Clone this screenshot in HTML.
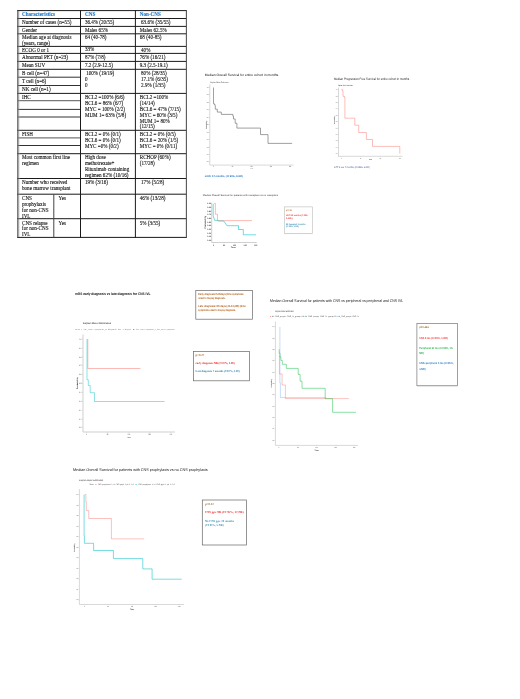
<!DOCTYPE html>
<html><head><meta charset="utf-8"><style>
html,body{margin:0;padding:0;background:#fff;}
body{width:520px;height:699px;overflow:hidden;}
svg{display:block;will-change:transform;filter:blur(0.2px);text-rendering:geometricPrecision;font-family:"Liberation Serif", serif;}
</style></head><body>
<svg width="520" height="699" viewBox="0 0 520 699" font-family="Liberation Serif, serif">
<rect width="520" height="699" fill="#fff"/>
<g style="text-rendering:auto">
<line x1="17.4" y1="10.6" x2="186.9" y2="10.6" stroke="#1a1a1a" stroke-width="1.0"/>
<line x1="17.4" y1="18.5" x2="186.9" y2="18.5" stroke="#1a1a1a" stroke-width="1.0"/>
<line x1="17.4" y1="26.4" x2="186.9" y2="26.4" stroke="#1a1a1a" stroke-width="1.0"/>
<line x1="17.4" y1="33.8" x2="186.9" y2="33.8" stroke="#1a1a1a" stroke-width="1.0"/>
<line x1="17.4" y1="46.4" x2="186.9" y2="46.4" stroke="#1a1a1a" stroke-width="1.0"/>
<line x1="17.4" y1="53.4" x2="186.9" y2="53.4" stroke="#1a1a1a" stroke-width="1.0"/>
<line x1="17.4" y1="61.4" x2="186.9" y2="61.4" stroke="#1a1a1a" stroke-width="1.0"/>
<line x1="17.4" y1="69.3" x2="186.9" y2="69.3" stroke="#1a1a1a" stroke-width="1.0"/>
<line x1="17.4" y1="93.4" x2="186.9" y2="93.4" stroke="#1a1a1a" stroke-width="1.0"/>
<line x1="17.4" y1="130.3" x2="186.9" y2="130.3" stroke="#1a1a1a" stroke-width="1.0"/>
<line x1="17.4" y1="153.7" x2="186.9" y2="153.7" stroke="#1a1a1a" stroke-width="1.0"/>
<line x1="17.4" y1="178.5" x2="186.9" y2="178.5" stroke="#1a1a1a" stroke-width="1.0"/>
<line x1="17.4" y1="194.2" x2="186.9" y2="194.2" stroke="#1a1a1a" stroke-width="1.0"/>
<line x1="17.4" y1="218.7" x2="186.9" y2="218.7" stroke="#1a1a1a" stroke-width="1.0"/>
<line x1="17.4" y1="237.4" x2="186.9" y2="237.4" stroke="#1a1a1a" stroke-width="1.0"/>
<line x1="17.9" y1="77.2" x2="80.5" y2="77.2" stroke="#1a1a1a" stroke-width="0.9"/>
<line x1="17.9" y1="85.5" x2="80.5" y2="85.5" stroke="#1a1a1a" stroke-width="0.9"/>
<line x1="17.9" y1="109.4" x2="80.5" y2="109.4" stroke="#1a1a1a" stroke-width="0.9"/>
<line x1="17.9" y1="145.5" x2="80.5" y2="145.5" stroke="#1a1a1a" stroke-width="0.9"/>
<line x1="17.9" y1="100.6" x2="80.5" y2="100.6" stroke="#777" stroke-width="1.3"/>
<line x1="17.9" y1="117.0" x2="80.5" y2="117.0" stroke="#777" stroke-width="1.3"/>
<line x1="17.9" y1="137.9" x2="80.5" y2="137.9" stroke="#777" stroke-width="1.3"/>
<line x1="17.9" y1="10.1" x2="17.9" y2="237.9" stroke="#333" stroke-width="1.1"/>
<line x1="19.0" y1="11" x2="19.0" y2="237" stroke="#bbb" stroke-width="0.6"/>
<line x1="80.5" y1="10.1" x2="80.5" y2="237.9" stroke="#1a1a1a" stroke-width="1.0"/>
<line x1="135.4" y1="10.1" x2="135.4" y2="237.9" stroke="#1a1a1a" stroke-width="1.0"/>
<line x1="186.4" y1="10.1" x2="186.4" y2="237.9" stroke="#555" stroke-width="1.1"/>
<line x1="53.8" y1="194.2" x2="53.8" y2="237.4" stroke="#444" stroke-width="1.0"/>
<text x="22.0" y="15.9" font-size="5.1" fill="#1f78c8" font-weight="bold" textLength="33" lengthAdjust="spacingAndGlyphs" stroke="#1f78c8" stroke-width="0.1"  xml:space="preserve">Characteristics</text>
<text x="84.9" y="15.9" font-size="5.1" fill="#1f78c8" font-weight="bold" textLength="10.4" lengthAdjust="spacingAndGlyphs" stroke="#1f78c8" stroke-width="0.1"  xml:space="preserve">CNS</text>
<text x="139.8" y="15.9" font-size="5.1" fill="#1f78c8" font-weight="bold" textLength="21" lengthAdjust="spacingAndGlyphs" stroke="#1f78c8" stroke-width="0.1"  xml:space="preserve">Non-CNS</text>
<text x="22.0" y="24.2" font-size="5.1" fill="#111" stroke="#111" stroke-width="0.1"  xml:space="preserve">Number of cases (n=55)</text>
<text x="22.0" y="32.2" font-size="5.1" fill="#111" stroke="#111" stroke-width="0.1"  xml:space="preserve">Gender</text>
<text x="22.0" y="39.1" font-size="5.1" fill="#111" stroke="#111" stroke-width="0.1"  xml:space="preserve">Median age at diagnosis</text>
<text x="22.0" y="45.1" font-size="5.1" fill="#111" stroke="#111" stroke-width="0.1"  xml:space="preserve">(years, range)</text>
<text x="22.0" y="51.9" font-size="5.1" fill="#111" stroke="#111" stroke-width="0.1"  xml:space="preserve">ECOG 0 or 1</text>
<text x="22.0" y="59.2" font-size="5.1" fill="#111" stroke="#111" stroke-width="0.1"  xml:space="preserve">Abnormal PET (n=23)</text>
<text x="22.0" y="66.9" font-size="5.1" fill="#111" stroke="#111" stroke-width="0.1"  xml:space="preserve">Mean SUV</text>
<text x="22.0" y="74.9" font-size="5.1" fill="#111" stroke="#111" stroke-width="0.1"  xml:space="preserve">B cell (n=47)</text>
<text x="22.0" y="83.0" font-size="5.1" fill="#111" stroke="#111" stroke-width="0.1"  xml:space="preserve">T cell (n=6)</text>
<text x="22.0" y="91.3" font-size="5.1" fill="#111" stroke="#111" stroke-width="0.1"  xml:space="preserve">NK cell (n=1)</text>
<text x="22.0" y="99.1" font-size="5.1" fill="#111" stroke="#111" stroke-width="0.1"  xml:space="preserve">IHC</text>
<text x="22.0" y="135.9" font-size="5.1" fill="#111" stroke="#111" stroke-width="0.1"  xml:space="preserve">FISH</text>
<text x="22.0" y="159.2" font-size="5.1" fill="#111" stroke="#111" stroke-width="0.1"  xml:space="preserve">Most common first line</text>
<text x="22.0" y="165.1" font-size="5.1" fill="#111" stroke="#111" stroke-width="0.1"  xml:space="preserve">regimen</text>
<text x="22.0" y="184.3" font-size="5.1" fill="#111" stroke="#111" stroke-width="0.1"  xml:space="preserve">Number who received</text>
<text x="22.0" y="190.3" font-size="5.1" fill="#111" stroke="#111" stroke-width="0.1"  xml:space="preserve">bone marrow transplant</text>
<text x="22.0" y="199.7" font-size="5.1" fill="#111" stroke="#111" stroke-width="0.1"  xml:space="preserve">CNS</text>
<text x="22.0" y="205.7" font-size="5.1" fill="#111" stroke="#111" stroke-width="0.1"  xml:space="preserve">prophylaxis</text>
<text x="22.0" y="211.6" font-size="5.1" fill="#111" stroke="#111" stroke-width="0.1"  xml:space="preserve">for non-CNS</text>
<text x="22.0" y="217.5" font-size="5.1" fill="#111" stroke="#111" stroke-width="0.1"  xml:space="preserve">IVL</text>
<text x="22.0" y="224.6" font-size="5.1" fill="#111" stroke="#111" stroke-width="0.1"  xml:space="preserve">CNS relapse</text>
<text x="22.0" y="230.4" font-size="5.1" fill="#111" stroke="#111" stroke-width="0.1"  xml:space="preserve">for non-CNS</text>
<text x="22.0" y="236.2" font-size="5.1" fill="#111" stroke="#111" stroke-width="0.1"  xml:space="preserve">IVL</text>
<text x="58.6" y="199.9" font-size="5.1" fill="#111" stroke="#111" stroke-width="0.1"  xml:space="preserve">Yes</text>
<text x="58.6" y="224.7" font-size="5.1" fill="#111" stroke="#111" stroke-width="0.1"  xml:space="preserve">Yes</text>
<text x="84.9" y="24.2" font-size="5.1" fill="#111" stroke="#111" stroke-width="0.1"  xml:space="preserve">36.4% (20/55)</text>
<text x="84.9" y="32.2" font-size="5.1" fill="#111" stroke="#111" stroke-width="0.1"  xml:space="preserve">Males 65%</text>
<text x="84.9" y="39.1" font-size="5.1" fill="#111" stroke="#111" stroke-width="0.1"  xml:space="preserve">64 (40-78)</text>
<text x="84.9" y="51.4" font-size="5.1" fill="#111" stroke="#111" stroke-width="0.1"  xml:space="preserve">33%</text>
<text x="84.9" y="59.0" font-size="5.1" fill="#111" stroke="#111" stroke-width="0.1"  xml:space="preserve">87% (7/8)</text>
<text x="84.9" y="66.9" font-size="5.1" fill="#111" stroke="#111" stroke-width="0.1"  xml:space="preserve">7.2 (2.9-12.5)</text>
<text x="84.9" y="75.1" font-size="5.1" fill="#111" stroke="#111" stroke-width="0.1"  xml:space="preserve"> 100% (19/19)</text>
<text x="84.9" y="80.9" font-size="5.1" fill="#111" stroke="#111" stroke-width="0.1"  xml:space="preserve">0</text>
<text x="84.9" y="86.7" font-size="5.1" fill="#111" stroke="#111" stroke-width="0.1"  xml:space="preserve">0</text>
<text x="84.9" y="99.1" font-size="5.1" fill="#111" stroke="#111" stroke-width="0.1"  xml:space="preserve">BCL2 =100% (6/6)</text>
<text x="84.9" y="105.0" font-size="5.1" fill="#111" stroke="#111" stroke-width="0.1"  xml:space="preserve">BCL6 = 86% (6/7)</text>
<text x="84.9" y="110.9" font-size="5.1" fill="#111" stroke="#111" stroke-width="0.1"  xml:space="preserve">MYC = 100% (2/2)</text>
<text x="84.9" y="116.8" font-size="5.1" fill="#111" stroke="#111" stroke-width="0.1"  xml:space="preserve">MUM 1= 63% (5/8)</text>
<text x="84.9" y="135.8" font-size="5.1" fill="#111" stroke="#111" stroke-width="0.1"  xml:space="preserve">BCL2 = 0% (0/1)</text>
<text x="84.9" y="141.7" font-size="5.1" fill="#111" stroke="#111" stroke-width="0.1"  xml:space="preserve">BCL6 = 0% (0/1)</text>
<text x="84.9" y="147.7" font-size="5.1" fill="#111" stroke="#111" stroke-width="0.1"  xml:space="preserve">MYC =0% (0/2)</text>
<text x="84.9" y="159.3" font-size="5.1" fill="#111" stroke="#111" stroke-width="0.1"  xml:space="preserve">High dose</text>
<text x="84.9" y="165.2" font-size="5.1" fill="#111" stroke="#111" stroke-width="0.1"  xml:space="preserve">methotrexate+</text>
<text x="84.9" y="171.3" font-size="5.1" fill="#111" stroke="#111" stroke-width="0.1"  xml:space="preserve">Rituximab containing</text>
<text x="84.9" y="177.2" font-size="5.1" fill="#111" stroke="#111" stroke-width="0.1"  xml:space="preserve">regimen 62% (10/16)</text>
<text x="84.9" y="184.1" font-size="5.1" fill="#111" stroke="#111" stroke-width="0.1"  xml:space="preserve">19% (3/16)</text>
<text x="139.8" y="24.2" font-size="5.1" fill="#111" stroke="#111" stroke-width="0.1"  xml:space="preserve"> 63.6% (35/55)</text>
<text x="139.8" y="32.2" font-size="5.1" fill="#111" stroke="#111" stroke-width="0.1"  xml:space="preserve">Males 62.5%</text>
<text x="139.8" y="39.1" font-size="5.1" fill="#111" stroke="#111" stroke-width="0.1"  xml:space="preserve">68 (40-85)</text>
<text x="139.8" y="51.5" font-size="5.1" fill="#111" stroke="#111" stroke-width="0.1"  xml:space="preserve"> 40%</text>
<text x="139.8" y="59.0" font-size="5.1" fill="#111" stroke="#111" stroke-width="0.1"  xml:space="preserve">76% (16/21)</text>
<text x="139.8" y="66.7" font-size="5.1" fill="#111" stroke="#111" stroke-width="0.1"  xml:space="preserve">9.3 (2.5-19.1)</text>
<text x="139.8" y="75.1" font-size="5.1" fill="#111" stroke="#111" stroke-width="0.1"  xml:space="preserve"> 80% (28/35)</text>
<text x="139.8" y="80.9" font-size="5.1" fill="#111" stroke="#111" stroke-width="0.1"  xml:space="preserve"> 17.1% (6/35)</text>
<text x="139.8" y="86.8" font-size="5.1" fill="#111" stroke="#111" stroke-width="0.1"  xml:space="preserve"> 2.9% (1/35)</text>
<text x="139.8" y="98.9" font-size="5.1" fill="#111" stroke="#111" stroke-width="0.1"  xml:space="preserve">BCL2 =100%</text>
<text x="139.8" y="104.9" font-size="5.1" fill="#111" stroke="#111" stroke-width="0.1"  xml:space="preserve">(14/14)</text>
<text x="139.8" y="110.8" font-size="5.1" fill="#111" stroke="#111" stroke-width="0.1"  xml:space="preserve">BCL6 = 47% (7/15)</text>
<text x="139.8" y="116.7" font-size="5.1" fill="#111" stroke="#111" stroke-width="0.1"  xml:space="preserve">MYC = 60% (3/5)</text>
<text x="139.8" y="122.6" font-size="5.1" fill="#111" stroke="#111" stroke-width="0.1"  xml:space="preserve">MUM 1= 80%</text>
<text x="139.8" y="128.4" font-size="5.1" fill="#111" stroke="#111" stroke-width="0.1"  xml:space="preserve">(12/15)</text>
<text x="139.8" y="135.8" font-size="5.1" fill="#111" stroke="#111" stroke-width="0.1"  xml:space="preserve">BCL2 = 0% (0/5)</text>
<text x="139.8" y="141.7" font-size="5.1" fill="#111" stroke="#111" stroke-width="0.1"  xml:space="preserve">BCL6 = 20% (1/5)</text>
<text x="139.8" y="147.7" font-size="5.1" fill="#111" stroke="#111" stroke-width="0.1"  xml:space="preserve">MYC = 0% (0/11)</text>
<text x="139.8" y="159.2" font-size="5.1" fill="#111" stroke="#111" stroke-width="0.1"  xml:space="preserve">RCHOP (60%)</text>
<text x="139.8" y="165.1" font-size="5.1" fill="#111" stroke="#111" stroke-width="0.1"  xml:space="preserve">(17/28)</text>
<text x="139.8" y="184.0" font-size="5.1" fill="#111" stroke="#111" stroke-width="0.1"  xml:space="preserve"> 17% (5/28)</text>
<text x="139.8" y="199.8" font-size="5.1" fill="#111" stroke="#111" stroke-width="0.1"  xml:space="preserve">46% (13/28)</text>
<text x="139.8" y="224.7" font-size="5.1" fill="#111" stroke="#111" stroke-width="0.1"  xml:space="preserve">5% (3/55)</text>
</g>
<text x="204.8" y="76.4" font-size="3.4" fill="#111" font-family="Liberation Sans, sans-serif" textLength="74.2" lengthAdjust="spacingAndGlyphs"  xml:space="preserve">Median Overall Survival for entire cohort in months.</text>
<text x="210.2" y="83.0" font-size="2.1" fill="#444" font-family="Liberation Sans, sans-serif" textLength="18.4" lengthAdjust="spacingAndGlyphs"  xml:space="preserve">Kaplan-Meier Estimates</text>
<line x1="209.8" y1="84.4" x2="209.8" y2="165.1" stroke="#c8c8c8" stroke-width="0.7"/>
<line x1="209.0" y1="87.5" x2="209.8" y2="87.5" stroke="#c8c8c8" stroke-width="0.5"/>
<text x="208.60000000000002" y="87.955" font-size="1.3" fill="#555" font-family="Liberation Sans, sans-serif" font-weight="bold" text-anchor="end"  xml:space="preserve">1.0</text>
<line x1="209.0" y1="94.95" x2="209.8" y2="94.95" stroke="#c8c8c8" stroke-width="0.5"/>
<text x="208.60000000000002" y="95.405" font-size="1.3" fill="#555" font-family="Liberation Sans, sans-serif" font-weight="bold" text-anchor="end"  xml:space="preserve">0.9</text>
<line x1="209.0" y1="102.4" x2="209.8" y2="102.4" stroke="#c8c8c8" stroke-width="0.5"/>
<text x="208.60000000000002" y="102.855" font-size="1.3" fill="#555" font-family="Liberation Sans, sans-serif" font-weight="bold" text-anchor="end"  xml:space="preserve">0.8</text>
<line x1="209.0" y1="109.85" x2="209.8" y2="109.85" stroke="#c8c8c8" stroke-width="0.5"/>
<text x="208.60000000000002" y="110.30499999999999" font-size="1.3" fill="#555" font-family="Liberation Sans, sans-serif" font-weight="bold" text-anchor="end"  xml:space="preserve">0.7</text>
<line x1="209.0" y1="117.3" x2="209.8" y2="117.3" stroke="#c8c8c8" stroke-width="0.5"/>
<text x="208.60000000000002" y="117.755" font-size="1.3" fill="#555" font-family="Liberation Sans, sans-serif" font-weight="bold" text-anchor="end"  xml:space="preserve">0.6</text>
<line x1="209.0" y1="124.75" x2="209.8" y2="124.75" stroke="#c8c8c8" stroke-width="0.5"/>
<text x="208.60000000000002" y="125.205" font-size="1.3" fill="#555" font-family="Liberation Sans, sans-serif" font-weight="bold" text-anchor="end"  xml:space="preserve">0.5</text>
<line x1="209.0" y1="132.2" x2="209.8" y2="132.2" stroke="#c8c8c8" stroke-width="0.5"/>
<text x="208.60000000000002" y="132.655" font-size="1.3" fill="#555" font-family="Liberation Sans, sans-serif" font-weight="bold" text-anchor="end"  xml:space="preserve">0.4</text>
<line x1="209.0" y1="139.65" x2="209.8" y2="139.65" stroke="#c8c8c8" stroke-width="0.5"/>
<text x="208.60000000000002" y="140.10500000000002" font-size="1.3" fill="#555" font-family="Liberation Sans, sans-serif" font-weight="bold" text-anchor="end"  xml:space="preserve">0.3</text>
<line x1="209.0" y1="147.1" x2="209.8" y2="147.1" stroke="#c8c8c8" stroke-width="0.5"/>
<text x="208.60000000000002" y="147.555" font-size="1.3" fill="#555" font-family="Liberation Sans, sans-serif" font-weight="bold" text-anchor="end"  xml:space="preserve">0.2</text>
<line x1="209.0" y1="154.55" x2="209.8" y2="154.55" stroke="#c8c8c8" stroke-width="0.5"/>
<text x="208.60000000000002" y="155.00500000000002" font-size="1.3" fill="#555" font-family="Liberation Sans, sans-serif" font-weight="bold" text-anchor="end"  xml:space="preserve">0.1</text>
<line x1="209.0" y1="162.0" x2="209.8" y2="162.0" stroke="#c8c8c8" stroke-width="0.5"/>
<text x="208.60000000000002" y="162.455" font-size="1.3" fill="#555" font-family="Liberation Sans, sans-serif" font-weight="bold" text-anchor="end"  xml:space="preserve">0.0</text>
<line x1="209.8" y1="165.1" x2="293.6" y2="165.1" stroke="#c8c8c8" stroke-width="0.7"/>
<line x1="213.5" y1="165.1" x2="213.5" y2="165.9" stroke="#c8c8c8" stroke-width="0.5"/>
<text x="213.5" y="167.2" font-size="1.3" fill="#555" font-family="Liberation Sans, sans-serif" font-weight="bold" text-anchor="middle"  xml:space="preserve">0</text>
<line x1="232.5" y1="165.1" x2="232.5" y2="165.9" stroke="#c8c8c8" stroke-width="0.5"/>
<text x="232.5" y="167.2" font-size="1.3" fill="#555" font-family="Liberation Sans, sans-serif" font-weight="bold" text-anchor="middle"  xml:space="preserve">50</text>
<line x1="251.5" y1="165.1" x2="251.5" y2="165.9" stroke="#c8c8c8" stroke-width="0.5"/>
<text x="251.5" y="167.2" font-size="1.3" fill="#555" font-family="Liberation Sans, sans-serif" font-weight="bold" text-anchor="middle"  xml:space="preserve">100</text>
<line x1="270.8" y1="165.1" x2="270.8" y2="165.9" stroke="#c8c8c8" stroke-width="0.5"/>
<text x="270.8" y="167.2" font-size="1.3" fill="#555" font-family="Liberation Sans, sans-serif" font-weight="bold" text-anchor="middle"  xml:space="preserve">150</text>
<line x1="290.0" y1="165.1" x2="290.0" y2="165.9" stroke="#c8c8c8" stroke-width="0.5"/>
<text x="290.0" y="167.2" font-size="1.3" fill="#555" font-family="Liberation Sans, sans-serif" font-weight="bold" text-anchor="middle"  xml:space="preserve">200</text>
<text x="251.5" y="169.3" font-size="1.5" fill="#777" font-family="Liberation Sans, sans-serif" text-anchor="middle"  xml:space="preserve">Time</text>
<text x="0" y="0" font-size="1.6" fill="#444" font-weight="bold" font-family="Liberation Sans, sans-serif" text-anchor="middle" transform="translate(206.9,124.7) rotate(-90)">Probability</text>
<path d="M213.5,87.5 V103.5 H214.1 V104.4 H215 V105.8 H215.3 V109.2 H217.3 V112.1 H221.3 V114.4 H232.9 V116.1 H233.5 V119 H235.2 V123.3 H236.9 V128.1 H260.5 V134.6 H268 V143.4 H292.1" fill="none" stroke="#6e6e6e" stroke-width="0.65" stroke-opacity="1" stroke-linejoin="miter"/>
<text x="204.8" y="176.7" font-size="2.6" fill="#1a72c2" font-family="Liberation Sans, sans-serif" font-weight="bold" textLength="38.0" lengthAdjust="spacingAndGlyphs"  xml:space="preserve">mOS: 57 months, (CI 95%, 9-NR)</text>
<text x="334.0" y="80.1" font-size="3.4" fill="#222" font-family="Liberation Sans, sans-serif" textLength="75.8" lengthAdjust="spacingAndGlyphs"  xml:space="preserve">Median Progression Free Survival for entire cohort in months.</text>
<text x="338.1" y="86.2" font-size="2.0" fill="#333" font-family="Liberation Sans, sans-serif" textLength="14.7" lengthAdjust="spacingAndGlyphs"  xml:space="preserve">Kaplan-Meier Estimate</text>
<line x1="338.5" y1="87.5" x2="338.5" y2="156.3" stroke="#c8c8c8" stroke-width="0.7"/>
<line x1="337.7" y1="89.8" x2="338.5" y2="89.8" stroke="#c8c8c8" stroke-width="0.5"/>
<text x="337.3" y="90.22" font-size="1.2" fill="#555" font-family="Liberation Sans, sans-serif" font-weight="bold" text-anchor="end"  xml:space="preserve">1.0</text>
<line x1="337.7" y1="96.19" x2="338.5" y2="96.19" stroke="#c8c8c8" stroke-width="0.5"/>
<text x="337.3" y="96.61" font-size="1.2" fill="#555" font-family="Liberation Sans, sans-serif" font-weight="bold" text-anchor="end"  xml:space="preserve">0.9</text>
<line x1="337.7" y1="102.58" x2="338.5" y2="102.58" stroke="#c8c8c8" stroke-width="0.5"/>
<text x="337.3" y="103.0" font-size="1.2" fill="#555" font-family="Liberation Sans, sans-serif" font-weight="bold" text-anchor="end"  xml:space="preserve">0.8</text>
<line x1="337.7" y1="108.97" x2="338.5" y2="108.97" stroke="#c8c8c8" stroke-width="0.5"/>
<text x="337.3" y="109.39" font-size="1.2" fill="#555" font-family="Liberation Sans, sans-serif" font-weight="bold" text-anchor="end"  xml:space="preserve">0.7</text>
<line x1="337.7" y1="115.36" x2="338.5" y2="115.36" stroke="#c8c8c8" stroke-width="0.5"/>
<text x="337.3" y="115.78" font-size="1.2" fill="#555" font-family="Liberation Sans, sans-serif" font-weight="bold" text-anchor="end"  xml:space="preserve">0.6</text>
<line x1="337.7" y1="121.75" x2="338.5" y2="121.75" stroke="#c8c8c8" stroke-width="0.5"/>
<text x="337.3" y="122.17" font-size="1.2" fill="#555" font-family="Liberation Sans, sans-serif" font-weight="bold" text-anchor="end"  xml:space="preserve">0.5</text>
<line x1="337.7" y1="128.14" x2="338.5" y2="128.14" stroke="#c8c8c8" stroke-width="0.5"/>
<text x="337.3" y="128.55999999999997" font-size="1.2" fill="#555" font-family="Liberation Sans, sans-serif" font-weight="bold" text-anchor="end"  xml:space="preserve">0.4</text>
<line x1="337.7" y1="134.53" x2="338.5" y2="134.53" stroke="#c8c8c8" stroke-width="0.5"/>
<text x="337.3" y="134.95" font-size="1.2" fill="#555" font-family="Liberation Sans, sans-serif" font-weight="bold" text-anchor="end"  xml:space="preserve">0.3</text>
<line x1="337.7" y1="140.92" x2="338.5" y2="140.92" stroke="#c8c8c8" stroke-width="0.5"/>
<text x="337.3" y="141.33999999999997" font-size="1.2" fill="#555" font-family="Liberation Sans, sans-serif" font-weight="bold" text-anchor="end"  xml:space="preserve">0.2</text>
<line x1="337.7" y1="147.31" x2="338.5" y2="147.31" stroke="#c8c8c8" stroke-width="0.5"/>
<text x="337.3" y="147.73" font-size="1.2" fill="#555" font-family="Liberation Sans, sans-serif" font-weight="bold" text-anchor="end"  xml:space="preserve">0.1</text>
<line x1="337.7" y1="153.7" x2="338.5" y2="153.7" stroke="#c8c8c8" stroke-width="0.5"/>
<text x="337.3" y="154.11999999999998" font-size="1.2" fill="#555" font-family="Liberation Sans, sans-serif" font-weight="bold" text-anchor="end"  xml:space="preserve">0.0</text>
<line x1="338.0" y1="156.3" x2="402.5" y2="156.3" stroke="#c8c8c8" stroke-width="0.7"/>
<line x1="341.3" y1="156.3" x2="341.3" y2="157.10000000000002" stroke="#c8c8c8" stroke-width="0.5"/>
<text x="341.3" y="158.7" font-size="1.2" fill="#555" font-family="Liberation Sans, sans-serif" font-weight="bold" text-anchor="middle"  xml:space="preserve">0</text>
<line x1="360.6" y1="156.3" x2="360.6" y2="157.10000000000002" stroke="#c8c8c8" stroke-width="0.5"/>
<text x="360.6" y="158.7" font-size="1.2" fill="#555" font-family="Liberation Sans, sans-serif" font-weight="bold" text-anchor="middle"  xml:space="preserve">50</text>
<line x1="380.3" y1="156.3" x2="380.3" y2="157.10000000000002" stroke="#c8c8c8" stroke-width="0.5"/>
<text x="380.3" y="158.7" font-size="1.2" fill="#555" font-family="Liberation Sans, sans-serif" font-weight="bold" text-anchor="middle"  xml:space="preserve">100</text>
<line x1="399.8" y1="156.3" x2="399.8" y2="157.10000000000002" stroke="#c8c8c8" stroke-width="0.5"/>
<text x="399.8" y="158.7" font-size="1.2" fill="#555" font-family="Liberation Sans, sans-serif" font-weight="bold" text-anchor="middle"  xml:space="preserve">150</text>
<text x="370.5" y="160.2" font-size="1.4" fill="#555" font-family="Liberation Sans, sans-serif" font-weight="bold" text-anchor="middle"  xml:space="preserve">Time</text>
<text x="0" y="0" font-size="1.5" fill="#444" font-weight="bold" font-family="Liberation Sans, sans-serif" text-anchor="middle" transform="translate(334.8,120) rotate(-90)">Probability</text>
<path d="M341.5,89.4 H342.3 V90.6 H343 V96.3 H344.4 V97.1 H344.9 V118.2 H354.8 V125.2 H358.7 V132.5 H366.4 V139.5 H372.5 V146.4 H399.8 V153.6" fill="none" stroke="#F8766D" stroke-width="0.6" stroke-opacity="0.8" stroke-linejoin="miter"/>
<text x="334.1" y="167.6" font-size="2.4" fill="#1f4e8c" font-family="Liberation Sans, sans-serif" textLength="35.6" lengthAdjust="spacingAndGlyphs"  xml:space="preserve">mPFS xxx 7 months, (CI 95%, 3-NR)</text>
<text x="202.8" y="195.5" font-size="2.5" fill="#333" font-family="Liberation Sans, sans-serif" textLength="75.2" lengthAdjust="spacingAndGlyphs"  xml:space="preserve">Median Overall Survival for patients with transplant vs no transplant</text>
<line x1="211.7" y1="202.6" x2="211.7" y2="242.5" stroke="#bbb" stroke-width="0.7"/>
<line x1="211.0" y1="203.8" x2="211.7" y2="203.8" stroke="#bbb" stroke-width="0.4"/>
<text x="211.1" y="204.45000000000002" font-size="1.8" fill="#333" font-family="Liberation Sans, sans-serif" font-weight="bold" textLength="3.8" lengthAdjust="spacingAndGlyphs" text-anchor="end"  xml:space="preserve">1.00</text>
<line x1="211.0" y1="207.47" x2="211.7" y2="207.47" stroke="#bbb" stroke-width="0.4"/>
<text x="211.1" y="208.12" font-size="1.8" fill="#333" font-family="Liberation Sans, sans-serif" font-weight="bold" textLength="3.8" lengthAdjust="spacingAndGlyphs" text-anchor="end"  xml:space="preserve">0.90</text>
<line x1="211.0" y1="211.14000000000001" x2="211.7" y2="211.14000000000001" stroke="#bbb" stroke-width="0.4"/>
<text x="211.1" y="211.79000000000002" font-size="1.8" fill="#333" font-family="Liberation Sans, sans-serif" font-weight="bold" textLength="3.8" lengthAdjust="spacingAndGlyphs" text-anchor="end"  xml:space="preserve">0.80</text>
<line x1="211.0" y1="214.81" x2="211.7" y2="214.81" stroke="#bbb" stroke-width="0.4"/>
<text x="211.1" y="215.46" font-size="1.8" fill="#333" font-family="Liberation Sans, sans-serif" font-weight="bold" textLength="3.8" lengthAdjust="spacingAndGlyphs" text-anchor="end"  xml:space="preserve">0.70</text>
<line x1="211.0" y1="218.48000000000002" x2="211.7" y2="218.48000000000002" stroke="#bbb" stroke-width="0.4"/>
<text x="211.1" y="219.13000000000002" font-size="1.8" fill="#333" font-family="Liberation Sans, sans-serif" font-weight="bold" textLength="3.8" lengthAdjust="spacingAndGlyphs" text-anchor="end"  xml:space="preserve">0.60</text>
<line x1="211.0" y1="222.15" x2="211.7" y2="222.15" stroke="#bbb" stroke-width="0.4"/>
<text x="211.1" y="222.8" font-size="1.8" fill="#333" font-family="Liberation Sans, sans-serif" font-weight="bold" textLength="3.8" lengthAdjust="spacingAndGlyphs" text-anchor="end"  xml:space="preserve">0.50</text>
<line x1="211.0" y1="225.82000000000002" x2="211.7" y2="225.82000000000002" stroke="#bbb" stroke-width="0.4"/>
<text x="211.1" y="226.47000000000003" font-size="1.8" fill="#333" font-family="Liberation Sans, sans-serif" font-weight="bold" textLength="3.8" lengthAdjust="spacingAndGlyphs" text-anchor="end"  xml:space="preserve">0.40</text>
<line x1="211.0" y1="229.49" x2="211.7" y2="229.49" stroke="#bbb" stroke-width="0.4"/>
<text x="211.1" y="230.14000000000001" font-size="1.8" fill="#333" font-family="Liberation Sans, sans-serif" font-weight="bold" textLength="3.8" lengthAdjust="spacingAndGlyphs" text-anchor="end"  xml:space="preserve">0.30</text>
<line x1="211.0" y1="233.16000000000003" x2="211.7" y2="233.16000000000003" stroke="#bbb" stroke-width="0.4"/>
<text x="211.1" y="233.81000000000003" font-size="1.8" fill="#333" font-family="Liberation Sans, sans-serif" font-weight="bold" textLength="3.8" lengthAdjust="spacingAndGlyphs" text-anchor="end"  xml:space="preserve">0.20</text>
<line x1="211.0" y1="236.83" x2="211.7" y2="236.83" stroke="#bbb" stroke-width="0.4"/>
<text x="211.1" y="237.48000000000002" font-size="1.8" fill="#333" font-family="Liberation Sans, sans-serif" font-weight="bold" textLength="3.8" lengthAdjust="spacingAndGlyphs" text-anchor="end"  xml:space="preserve">0.10</text>
<line x1="211.0" y1="240.5" x2="211.7" y2="240.5" stroke="#bbb" stroke-width="0.4"/>
<text x="211.1" y="241.15" font-size="1.8" fill="#333" font-family="Liberation Sans, sans-serif" font-weight="bold" textLength="3.8" lengthAdjust="spacingAndGlyphs" text-anchor="end"  xml:space="preserve">0.00</text>
<line x1="211.7" y1="242.5" x2="256.7" y2="242.5" stroke="#bbb" stroke-width="0.7"/>
<line x1="213.5" y1="242.5" x2="213.5" y2="243.3" stroke="#bbb" stroke-width="0.4"/>
<text x="213.5" y="245.7" font-size="1.9" fill="#333" font-family="Liberation Sans, sans-serif" font-weight="bold" text-anchor="middle"  xml:space="preserve">0</text>
<line x1="224.0" y1="242.5" x2="224.0" y2="243.3" stroke="#bbb" stroke-width="0.4"/>
<text x="224.0" y="245.7" font-size="1.9" fill="#333" font-family="Liberation Sans, sans-serif" font-weight="bold" text-anchor="middle"  xml:space="preserve">50</text>
<line x1="234.6" y1="242.5" x2="234.6" y2="243.3" stroke="#bbb" stroke-width="0.4"/>
<text x="234.6" y="245.7" font-size="1.9" fill="#333" font-family="Liberation Sans, sans-serif" font-weight="bold" text-anchor="middle"  xml:space="preserve">100</text>
<line x1="245.2" y1="242.5" x2="245.2" y2="243.3" stroke="#bbb" stroke-width="0.4"/>
<text x="245.2" y="245.7" font-size="1.9" fill="#333" font-family="Liberation Sans, sans-serif" font-weight="bold" text-anchor="middle"  xml:space="preserve">150</text>
<line x1="255.8" y1="242.5" x2="255.8" y2="243.3" stroke="#bbb" stroke-width="0.4"/>
<text x="255.8" y="245.7" font-size="1.9" fill="#333" font-family="Liberation Sans, sans-serif" font-weight="bold" text-anchor="middle"  xml:space="preserve">200</text>
<text x="233.2" y="248.2" font-size="2.1" fill="#333" font-family="Liberation Sans, sans-serif" font-weight="bold" text-anchor="middle"  xml:space="preserve">Time</text>
<text x="0" y="0" font-size="2.3" fill="#333" font-weight="bold" font-family="Liberation Sans, sans-serif" text-anchor="middle" textLength="13" lengthAdjust="spacingAndGlyphs" transform="translate(206.2,222.3) rotate(-90)">Probability</text>
<path d="M213.8,203.4 H215.4 V214.2 H217.5 V220.6 H252.0" fill="none" stroke="#F8766D" stroke-width="0.9" stroke-opacity="0.55" stroke-linejoin="miter"/>
<path d="M213.2,204.0 V215.7 L214.6,220.3 H217.7 L218.2,221 H223.8 L226.9,225.7 H238.5 V229.5 H243.3 V234.8 H256.0" fill="none" stroke="#00BFC4" stroke-width="0.8" stroke-opacity="0.7" stroke-linejoin="miter"/>
<rect x="284.4" y="206.9" width="28" height="26.5" fill="#fff" stroke="#bbb" stroke-width="0.6"/>
<line x1="284.6" y1="233.6" x2="312.4" y2="233.6" stroke="#ccc" stroke-width="0.5"/>
<text x="285.9" y="210.6" font-size="2.2" fill="#c0782a" font-family="Liberation Sans, sans-serif" font-weight="bold" textLength="5.9" lengthAdjust="spacingAndGlyphs"  xml:space="preserve">p=0.29</text>
<text x="285.9" y="216.0" font-size="2.2" fill="#f03030" font-family="Liberation Sans, sans-serif" font-weight="bold" textLength="22.2" lengthAdjust="spacingAndGlyphs"  xml:space="preserve">NOT SX months (7-13%,</text>
<text x="285.9" y="218.9" font-size="2.2" fill="#f03030" font-family="Liberation Sans, sans-serif" font-weight="bold" textLength="6.6" lengthAdjust="spacingAndGlyphs"  xml:space="preserve">1-NR)</text>
<text x="285.9" y="224.8" font-size="2.2" fill="#3a8fb5" font-family="Liberation Sans, sans-serif" font-weight="bold" textLength="19.6" lengthAdjust="spacingAndGlyphs"  xml:space="preserve">SX transplant 5 months</text>
<text x="285.9" y="227.4" font-size="2.2" fill="#3a8fb5" font-family="Liberation Sans, sans-serif" font-weight="bold" textLength="12.8" lengthAdjust="spacingAndGlyphs"  xml:space="preserve">(CI 95%, 1-NR)</text>
<text x="75.0" y="294.5" font-size="3.6" fill="#111" font-family="Liberation Sans, sans-serif" font-weight="bold" textLength="75.4" lengthAdjust="spacingAndGlyphs"  xml:space="preserve">mOS early diagnosis vs late diagnosis for CNS IVL</text>
<text x="82.7" y="324.4" font-size="2.4" fill="#222" font-family="Liberation Sans, sans-serif" textLength="28.3" lengthAdjust="spacingAndGlyphs"  xml:space="preserve">Kaplan-Meier Estimates</text>
<text x="75.0" y="330.3" font-size="1.6" fill="#444" font-family="Liberation Sans, sans-serif" textLength="56.5" lengthAdjust="spacingAndGlyphs"  xml:space="preserve">strata_1_late_onset_symptoms_to_diagnosis_late_1_days=1</text>
<rect x="133.0" y="329.2" width="1.4" height="0.8" fill="#00BFC4"/>
<text x="136.3" y="330.3" font-size="1.6" fill="#444" font-family="Liberation Sans, sans-serif" textLength="39.5" lengthAdjust="spacingAndGlyphs"  xml:space="preserve">late_onset_symptoms_1_late_onset_symptoms_</text>
<line x1="83.0" y1="334.6" x2="83.0" y2="432.0" stroke="#bbb" stroke-width="0.7"/>
<line x1="82.2" y1="339.2" x2="83.0" y2="339.2" stroke="#bbb" stroke-width="0.4"/>
<text x="81.6" y="339.8" font-size="1.7" fill="#444" font-family="Liberation Sans, sans-serif" textLength="2.7" lengthAdjust="spacingAndGlyphs" text-anchor="end"  xml:space="preserve">1.0</text>
<line x1="82.2" y1="348.06" x2="83.0" y2="348.06" stroke="#bbb" stroke-width="0.4"/>
<text x="81.6" y="348.66" font-size="1.7" fill="#444" font-family="Liberation Sans, sans-serif" textLength="2.7" lengthAdjust="spacingAndGlyphs" text-anchor="end"  xml:space="preserve">0.9</text>
<line x1="82.2" y1="356.91999999999996" x2="83.0" y2="356.91999999999996" stroke="#bbb" stroke-width="0.4"/>
<text x="81.6" y="357.52" font-size="1.7" fill="#444" font-family="Liberation Sans, sans-serif" textLength="2.7" lengthAdjust="spacingAndGlyphs" text-anchor="end"  xml:space="preserve">0.8</text>
<line x1="82.2" y1="365.78" x2="83.0" y2="365.78" stroke="#bbb" stroke-width="0.4"/>
<text x="81.6" y="366.38" font-size="1.7" fill="#444" font-family="Liberation Sans, sans-serif" textLength="2.7" lengthAdjust="spacingAndGlyphs" text-anchor="end"  xml:space="preserve">0.7</text>
<line x1="82.2" y1="374.64" x2="83.0" y2="374.64" stroke="#bbb" stroke-width="0.4"/>
<text x="81.6" y="375.24" font-size="1.7" fill="#444" font-family="Liberation Sans, sans-serif" textLength="2.7" lengthAdjust="spacingAndGlyphs" text-anchor="end"  xml:space="preserve">0.6</text>
<line x1="82.2" y1="383.5" x2="83.0" y2="383.5" stroke="#bbb" stroke-width="0.4"/>
<text x="81.6" y="384.1" font-size="1.7" fill="#444" font-family="Liberation Sans, sans-serif" textLength="2.7" lengthAdjust="spacingAndGlyphs" text-anchor="end"  xml:space="preserve">0.5</text>
<line x1="82.2" y1="392.36" x2="83.0" y2="392.36" stroke="#bbb" stroke-width="0.4"/>
<text x="81.6" y="392.96000000000004" font-size="1.7" fill="#444" font-family="Liberation Sans, sans-serif" textLength="2.7" lengthAdjust="spacingAndGlyphs" text-anchor="end"  xml:space="preserve">0.4</text>
<line x1="82.2" y1="401.21999999999997" x2="83.0" y2="401.21999999999997" stroke="#bbb" stroke-width="0.4"/>
<text x="81.6" y="401.82" font-size="1.7" fill="#444" font-family="Liberation Sans, sans-serif" textLength="2.7" lengthAdjust="spacingAndGlyphs" text-anchor="end"  xml:space="preserve">0.3</text>
<line x1="82.2" y1="410.08" x2="83.0" y2="410.08" stroke="#bbb" stroke-width="0.4"/>
<text x="81.6" y="410.68" font-size="1.7" fill="#444" font-family="Liberation Sans, sans-serif" textLength="2.7" lengthAdjust="spacingAndGlyphs" text-anchor="end"  xml:space="preserve">0.2</text>
<line x1="82.2" y1="418.94" x2="83.0" y2="418.94" stroke="#bbb" stroke-width="0.4"/>
<text x="81.6" y="419.54" font-size="1.7" fill="#444" font-family="Liberation Sans, sans-serif" textLength="2.7" lengthAdjust="spacingAndGlyphs" text-anchor="end"  xml:space="preserve">0.1</text>
<line x1="82.2" y1="427.79999999999995" x2="83.0" y2="427.79999999999995" stroke="#bbb" stroke-width="0.4"/>
<text x="81.6" y="428.4" font-size="1.7" fill="#444" font-family="Liberation Sans, sans-serif" textLength="2.7" lengthAdjust="spacingAndGlyphs" text-anchor="end"  xml:space="preserve">0.0</text>
<line x1="83.0" y1="432.0" x2="175.0" y2="432.0" stroke="#bbb" stroke-width="0.7"/>
<line x1="86.6" y1="432.0" x2="86.6" y2="432.8" stroke="#bbb" stroke-width="0.4"/>
<text x="86.6" y="435.3" font-size="1.7" fill="#444" font-family="Liberation Sans, sans-serif" text-anchor="middle"  xml:space="preserve">0</text>
<line x1="107.6" y1="432.0" x2="107.6" y2="432.8" stroke="#bbb" stroke-width="0.4"/>
<text x="107.6" y="435.3" font-size="1.7" fill="#444" font-family="Liberation Sans, sans-serif" text-anchor="middle"  xml:space="preserve">50</text>
<line x1="128.9" y1="432.0" x2="128.9" y2="432.8" stroke="#bbb" stroke-width="0.4"/>
<text x="128.9" y="435.3" font-size="1.7" fill="#444" font-family="Liberation Sans, sans-serif" text-anchor="middle"  xml:space="preserve">100</text>
<line x1="149.6" y1="432.0" x2="149.6" y2="432.8" stroke="#bbb" stroke-width="0.4"/>
<text x="149.6" y="435.3" font-size="1.7" fill="#444" font-family="Liberation Sans, sans-serif" text-anchor="middle"  xml:space="preserve">150</text>
<line x1="170.9" y1="432.0" x2="170.9" y2="432.8" stroke="#bbb" stroke-width="0.4"/>
<text x="170.9" y="435.3" font-size="1.7" fill="#444" font-family="Liberation Sans, sans-serif" text-anchor="middle"  xml:space="preserve">200</text>
<text x="128.9" y="437.8" font-size="1.9" fill="#333" font-family="Liberation Sans, sans-serif" text-anchor="middle"  xml:space="preserve">Time</text>
<text x="0" y="0" font-size="2.0" fill="#222" font-weight="bold" font-family="Liberation Sans, sans-serif" text-anchor="middle" textLength="12" lengthAdjust="spacingAndGlyphs" transform="translate(77.5,383.2) rotate(-90)">Probability</text>
<path d="M87.8,339.0 V368.5 H140.4" fill="none" stroke="#F8766D" stroke-width="0.6" stroke-opacity="0.85" stroke-linejoin="miter"/>
<path d="M87.0,339.0 V379.7 H88.3 V385.5 H90.2 V392.7 H94.5 V401.5 H164.6" fill="none" stroke="#00BFC4" stroke-width="0.75" stroke-opacity="0.6" stroke-linejoin="miter"/>
<rect x="195.8" y="290.4" width="56.6" height="28.8" fill="#fff" stroke="#666" stroke-width="0.7"/>
<text x="198.3" y="295.2" font-size="2.9" fill="#b0580f" font-family="Liberation Sans, sans-serif" font-weight="bold" textLength="45.2" lengthAdjust="spacingAndGlyphs"  xml:space="preserve">Early diagnosis&lt;5-15days (time symptoms</text>
<text x="198.3" y="299.2" font-size="2.9" fill="#b0580f" font-family="Liberation Sans, sans-serif" font-weight="bold" textLength="27.0" lengthAdjust="spacingAndGlyphs"  xml:space="preserve">onset to biopsy diagnosis.</text>
<text x="198.3" y="307.4" font-size="2.9" fill="#b0580f" font-family="Liberation Sans, sans-serif" font-weight="bold" textLength="47.5" lengthAdjust="spacingAndGlyphs"  xml:space="preserve">Late diagnosis&gt;15 days (21-14,445) (time</text>
<text x="198.3" y="311.4" font-size="2.9" fill="#b0580f" font-family="Liberation Sans, sans-serif" font-weight="bold" textLength="37.5" lengthAdjust="spacingAndGlyphs"  xml:space="preserve">symptoms onset to biopsy diagnosis.</text>
<rect x="193.6" y="351.5" width="56.0" height="29.3" fill="#fff" stroke="#666" stroke-width="0.7"/>
<text x="195.6" y="355.6" font-size="3.1" fill="#a86a2a" font-weight="bold" textLength="8.8" lengthAdjust="spacingAndGlyphs"  xml:space="preserve">p=0.27</text>
<text x="195.6" y="364.0" font-size="3.0" fill="#e81818" font-weight="bold" textLength="39.0" lengthAdjust="spacingAndGlyphs"  xml:space="preserve">early diagnosis NR (CI 0%, 1.00)</text>
<text x="195.6" y="371.9" font-size="3.0" fill="#2a80a8" font-weight="bold" textLength="44.0" lengthAdjust="spacingAndGlyphs"  xml:space="preserve">Late diagnosis 7 months (CI 0%, 1.00)</text>
<text x="270.0" y="302.3" font-size="3.9" fill="#111" font-family="Liberation Sans, sans-serif" textLength="133.3" lengthAdjust="spacingAndGlyphs"  xml:space="preserve">Median Overall Survival for patients with CNS vs peripheral vs peripheral and CNS IVL</text>
<text x="275.2" y="312.2" font-size="2.3" fill="#333" font-family="Liberation Sans, sans-serif" textLength="18.5" lengthAdjust="spacingAndGlyphs"  xml:space="preserve">Kaplan-Meier Estimates</text>
<rect x="270.2" y="315.9" width="0.9" height="0.9" fill="#F8766D"/>
<rect x="303.3" y="315.9" width="0.9" height="0.9" fill="#00BA38"/>
<rect x="336.6" y="315.9" width="0.9" height="0.9" fill="#619CFF"/>
<text x="272.0" y="317.1" font-size="1.8" fill="#444" font-family="Liberation Sans, sans-serif" textLength="30.5" lengthAdjust="spacingAndGlyphs"  xml:space="preserve">ttt_CNS_periph_CNS_IV_group=1</text>
<text x="305.2" y="317.1" font-size="1.8" fill="#444" font-family="Liberation Sans, sans-serif" textLength="30.5" lengthAdjust="spacingAndGlyphs"  xml:space="preserve">ttt_CNS_periph_CNS_IV_group=2</text>
<text x="338.5" y="317.1" font-size="1.8" fill="#444" font-family="Liberation Sans, sans-serif" textLength="20.5" lengthAdjust="spacingAndGlyphs"  xml:space="preserve">ttt_CNS_periph_CNS_IV</text>
<line x1="275.4" y1="321.4" x2="275.4" y2="445.4" stroke="#c8c8c8" stroke-width="0.7"/>
<line x1="274.59999999999997" y1="326.9" x2="275.4" y2="326.9" stroke="#c8c8c8" stroke-width="0.5"/>
<text x="274.2" y="327.35499999999996" font-size="1.3" fill="#555" font-family="Liberation Sans, sans-serif" font-weight="bold" text-anchor="end"  xml:space="preserve">1.0</text>
<line x1="274.59999999999997" y1="338.22999999999996" x2="275.4" y2="338.22999999999996" stroke="#c8c8c8" stroke-width="0.5"/>
<text x="274.2" y="338.68499999999995" font-size="1.3" fill="#555" font-family="Liberation Sans, sans-serif" font-weight="bold" text-anchor="end"  xml:space="preserve">0.9</text>
<line x1="274.59999999999997" y1="349.56" x2="275.4" y2="349.56" stroke="#c8c8c8" stroke-width="0.5"/>
<text x="274.2" y="350.015" font-size="1.3" fill="#555" font-family="Liberation Sans, sans-serif" font-weight="bold" text-anchor="end"  xml:space="preserve">0.8</text>
<line x1="274.59999999999997" y1="360.89" x2="275.4" y2="360.89" stroke="#c8c8c8" stroke-width="0.5"/>
<text x="274.2" y="361.34499999999997" font-size="1.3" fill="#555" font-family="Liberation Sans, sans-serif" font-weight="bold" text-anchor="end"  xml:space="preserve">0.7</text>
<line x1="274.59999999999997" y1="372.21999999999997" x2="275.4" y2="372.21999999999997" stroke="#c8c8c8" stroke-width="0.5"/>
<text x="274.2" y="372.67499999999995" font-size="1.3" fill="#555" font-family="Liberation Sans, sans-serif" font-weight="bold" text-anchor="end"  xml:space="preserve">0.6</text>
<line x1="274.59999999999997" y1="383.54999999999995" x2="275.4" y2="383.54999999999995" stroke="#c8c8c8" stroke-width="0.5"/>
<text x="274.2" y="384.00499999999994" font-size="1.3" fill="#555" font-family="Liberation Sans, sans-serif" font-weight="bold" text-anchor="end"  xml:space="preserve">0.5</text>
<line x1="274.59999999999997" y1="394.88" x2="275.4" y2="394.88" stroke="#c8c8c8" stroke-width="0.5"/>
<text x="274.2" y="395.335" font-size="1.3" fill="#555" font-family="Liberation Sans, sans-serif" font-weight="bold" text-anchor="end"  xml:space="preserve">0.4</text>
<line x1="274.59999999999997" y1="406.21" x2="275.4" y2="406.21" stroke="#c8c8c8" stroke-width="0.5"/>
<text x="274.2" y="406.66499999999996" font-size="1.3" fill="#555" font-family="Liberation Sans, sans-serif" font-weight="bold" text-anchor="end"  xml:space="preserve">0.3</text>
<line x1="274.59999999999997" y1="417.53999999999996" x2="275.4" y2="417.53999999999996" stroke="#c8c8c8" stroke-width="0.5"/>
<text x="274.2" y="417.99499999999995" font-size="1.3" fill="#555" font-family="Liberation Sans, sans-serif" font-weight="bold" text-anchor="end"  xml:space="preserve">0.2</text>
<line x1="274.59999999999997" y1="428.87" x2="275.4" y2="428.87" stroke="#c8c8c8" stroke-width="0.5"/>
<text x="274.2" y="429.325" font-size="1.3" fill="#555" font-family="Liberation Sans, sans-serif" font-weight="bold" text-anchor="end"  xml:space="preserve">0.1</text>
<line x1="274.59999999999997" y1="440.2" x2="275.4" y2="440.2" stroke="#c8c8c8" stroke-width="0.5"/>
<text x="274.2" y="440.655" font-size="1.3" fill="#555" font-family="Liberation Sans, sans-serif" font-weight="bold" text-anchor="end"  xml:space="preserve">0.0</text>
<line x1="275.4" y1="445.4" x2="358.0" y2="445.4" stroke="#c8c8c8" stroke-width="0.7"/>
<line x1="278.8" y1="445.4" x2="278.8" y2="446.2" stroke="#c8c8c8" stroke-width="0.5"/>
<text x="278.8" y="447.8" font-size="1.3" fill="#555" font-family="Liberation Sans, sans-serif" font-weight="bold" text-anchor="middle"  xml:space="preserve">0</text>
<line x1="297.9" y1="445.4" x2="297.9" y2="446.2" stroke="#c8c8c8" stroke-width="0.5"/>
<text x="297.9" y="447.8" font-size="1.3" fill="#555" font-family="Liberation Sans, sans-serif" font-weight="bold" text-anchor="middle"  xml:space="preserve">50</text>
<line x1="316.7" y1="445.4" x2="316.7" y2="446.2" stroke="#c8c8c8" stroke-width="0.5"/>
<text x="316.7" y="447.8" font-size="1.3" fill="#555" font-family="Liberation Sans, sans-serif" font-weight="bold" text-anchor="middle"  xml:space="preserve">100</text>
<line x1="335.6" y1="445.4" x2="335.6" y2="446.2" stroke="#c8c8c8" stroke-width="0.5"/>
<text x="335.6" y="447.8" font-size="1.3" fill="#555" font-family="Liberation Sans, sans-serif" font-weight="bold" text-anchor="middle"  xml:space="preserve">150</text>
<line x1="354.2" y1="445.4" x2="354.2" y2="446.2" stroke="#c8c8c8" stroke-width="0.5"/>
<text x="354.2" y="447.8" font-size="1.3" fill="#555" font-family="Liberation Sans, sans-serif" font-weight="bold" text-anchor="middle"  xml:space="preserve">200</text>
<text x="316.7" y="450.8" font-size="1.8" fill="#333" font-family="Liberation Sans, sans-serif" font-weight="bold" text-anchor="middle"  xml:space="preserve">Time</text>
<text x="0" y="0" font-size="1.6" fill="#444" font-weight="bold" font-family="Liberation Sans, sans-serif" text-anchor="middle" transform="translate(271.5,383) rotate(-90)">Probability</text>
<path d="M279.9,326.9 V383 H280.4 V397.6 H326.3" fill="none" stroke="#619CFF" stroke-width="0.7" stroke-opacity="0.5" stroke-linejoin="miter"/>
<path d="M279.4,355.6 V374 H282.1 V385 H285.4 V398.6 H348.9" fill="none" stroke="#F8766D" stroke-width="0.7" stroke-opacity="0.6" stroke-linejoin="miter"/>
<path d="M279.2,349.3 V353.2 H280 V357 H280.9 V360.4 H282.3 V364.3 H286.3 V368.4 H298.2 V374.4 H300.1 V381.2 H302 V388.3 H325.2 V398.7 H332.6 V412.3 H356" fill="none" stroke="#00BA38" stroke-width="0.7" stroke-opacity="0.65" stroke-linejoin="miter"/>
<rect x="416.9" y="323.5" width="40.6" height="62.2" fill="#fff" stroke="#777" stroke-width="0.7"/>
<line x1="417.2" y1="386.0" x2="457.6" y2="386.0" stroke="#bbb" stroke-width="0.6"/>
<text x="419.2" y="328.4" font-size="2.7" fill="#b07830" font-family="Liberation Sans, sans-serif" font-weight="bold" textLength="9.5" lengthAdjust="spacingAndGlyphs"  xml:space="preserve">p=0.494</text>
<text x="419.2" y="338.6" font-size="2.8" fill="#ff3838" font-family="Liberation Sans, sans-serif" font-weight="bold" textLength="28.5" lengthAdjust="spacingAndGlyphs"  xml:space="preserve">CNS 8 mo (CI 95%, 1-NR)</text>
<text x="419.2" y="348.6" font-size="2.8" fill="#2db84d" font-family="Liberation Sans, sans-serif" font-weight="bold" textLength="33.9" lengthAdjust="spacingAndGlyphs"  xml:space="preserve">Peripheral 62 mo (CI 95%, 10-</text>
<text x="419.2" y="354.2" font-size="2.8" fill="#2db84d" font-family="Liberation Sans, sans-serif" font-weight="bold" textLength="4.6" lengthAdjust="spacingAndGlyphs"  xml:space="preserve">NR)</text>
<text x="419.2" y="364.1" font-size="2.8" fill="#2f7fd0" font-family="Liberation Sans, sans-serif" font-weight="bold" textLength="34.3" lengthAdjust="spacingAndGlyphs"  xml:space="preserve">CNS+peripheral 4 mo (CI 95%,</text>
<text x="419.2" y="369.6" font-size="2.8" fill="#2f7fd0" font-family="Liberation Sans, sans-serif" font-weight="bold" textLength="6.3" lengthAdjust="spacingAndGlyphs"  xml:space="preserve">3-NR)</text>
<text x="73.0" y="471.4" font-size="3.9" fill="#111" font-family="Liberation Sans, sans-serif" textLength="134.7" lengthAdjust="spacingAndGlyphs"  xml:space="preserve">Median Overall Survival for patients with CNS prophylaxis vs no CNS prophylaxis</text>
<text x="79.1" y="480.6" font-size="2.3" fill="#333" font-family="Liberation Sans, sans-serif" textLength="24.1" lengthAdjust="spacingAndGlyphs"  xml:space="preserve">Kaplan-Meier Estimates</text>
<text x="89.5" y="485.3" font-size="1.8" fill="#444" font-family="Liberation Sans, sans-serif" textLength="4.2" lengthAdjust="spacingAndGlyphs"  xml:space="preserve">Strata</text>
<rect x="95.2" y="484.3" width="1.3" height="0.6" fill="#F8766D"/>
<text x="97.9" y="485.3" font-size="1.8" fill="#444" font-family="Liberation Sans, sans-serif" textLength="36" lengthAdjust="spacingAndGlyphs"  xml:space="preserve">CNS_prophylaxis_1_ivl_CNS_gbp1_1_pb_1_0=0</text>
<rect x="135.5" y="484.3" width="1.3" height="0.6" fill="#00BFC4"/>
<text x="138.2" y="485.3" font-size="1.8" fill="#444" font-family="Liberation Sans, sans-serif" textLength="36.4" lengthAdjust="spacingAndGlyphs"  xml:space="preserve">CNS_prophylaxis_1_ivl_CNS_gbp1_1_pb_1_0=1</text>
<line x1="79.4" y1="489.1" x2="79.4" y2="604.5" stroke="#c8c8c8" stroke-width="0.7"/>
<line x1="78.60000000000001" y1="494.6" x2="79.4" y2="494.6" stroke="#c8c8c8" stroke-width="0.5"/>
<text x="78.2" y="495.055" font-size="1.3" fill="#555" font-family="Liberation Sans, sans-serif" font-weight="bold" text-anchor="end"  xml:space="preserve">1.0</text>
<line x1="78.60000000000001" y1="505.13" x2="79.4" y2="505.13" stroke="#c8c8c8" stroke-width="0.5"/>
<text x="78.2" y="505.585" font-size="1.3" fill="#555" font-family="Liberation Sans, sans-serif" font-weight="bold" text-anchor="end"  xml:space="preserve">0.9</text>
<line x1="78.60000000000001" y1="515.66" x2="79.4" y2="515.66" stroke="#c8c8c8" stroke-width="0.5"/>
<text x="78.2" y="516.115" font-size="1.3" fill="#555" font-family="Liberation Sans, sans-serif" font-weight="bold" text-anchor="end"  xml:space="preserve">0.8</text>
<line x1="78.60000000000001" y1="526.19" x2="79.4" y2="526.19" stroke="#c8c8c8" stroke-width="0.5"/>
<text x="78.2" y="526.6450000000001" font-size="1.3" fill="#555" font-family="Liberation Sans, sans-serif" font-weight="bold" text-anchor="end"  xml:space="preserve">0.7</text>
<line x1="78.60000000000001" y1="536.72" x2="79.4" y2="536.72" stroke="#c8c8c8" stroke-width="0.5"/>
<text x="78.2" y="537.1750000000001" font-size="1.3" fill="#555" font-family="Liberation Sans, sans-serif" font-weight="bold" text-anchor="end"  xml:space="preserve">0.6</text>
<line x1="78.60000000000001" y1="547.25" x2="79.4" y2="547.25" stroke="#c8c8c8" stroke-width="0.5"/>
<text x="78.2" y="547.705" font-size="1.3" fill="#555" font-family="Liberation Sans, sans-serif" font-weight="bold" text-anchor="end"  xml:space="preserve">0.5</text>
<line x1="78.60000000000001" y1="557.78" x2="79.4" y2="557.78" stroke="#c8c8c8" stroke-width="0.5"/>
<text x="78.2" y="558.235" font-size="1.3" fill="#555" font-family="Liberation Sans, sans-serif" font-weight="bold" text-anchor="end"  xml:space="preserve">0.4</text>
<line x1="78.60000000000001" y1="568.3100000000001" x2="79.4" y2="568.3100000000001" stroke="#c8c8c8" stroke-width="0.5"/>
<text x="78.2" y="568.7650000000001" font-size="1.3" fill="#555" font-family="Liberation Sans, sans-serif" font-weight="bold" text-anchor="end"  xml:space="preserve">0.3</text>
<line x1="78.60000000000001" y1="578.84" x2="79.4" y2="578.84" stroke="#c8c8c8" stroke-width="0.5"/>
<text x="78.2" y="579.2950000000001" font-size="1.3" fill="#555" font-family="Liberation Sans, sans-serif" font-weight="bold" text-anchor="end"  xml:space="preserve">0.2</text>
<line x1="78.60000000000001" y1="589.37" x2="79.4" y2="589.37" stroke="#c8c8c8" stroke-width="0.5"/>
<text x="78.2" y="589.825" font-size="1.3" fill="#555" font-family="Liberation Sans, sans-serif" font-weight="bold" text-anchor="end"  xml:space="preserve">0.1</text>
<line x1="78.60000000000001" y1="599.9" x2="79.4" y2="599.9" stroke="#c8c8c8" stroke-width="0.5"/>
<text x="78.2" y="600.355" font-size="1.3" fill="#555" font-family="Liberation Sans, sans-serif" font-weight="bold" text-anchor="end"  xml:space="preserve">0.0</text>
<line x1="79.4" y1="604.5" x2="184.0" y2="604.5" stroke="#c8c8c8" stroke-width="0.7"/>
<line x1="84.3" y1="604.5" x2="84.3" y2="605.3" stroke="#c8c8c8" stroke-width="0.5"/>
<text x="84.3" y="607.0" font-size="1.3" fill="#555" font-family="Liberation Sans, sans-serif" font-weight="bold" text-anchor="middle"  xml:space="preserve">0</text>
<line x1="108.0" y1="604.5" x2="108.0" y2="605.3" stroke="#c8c8c8" stroke-width="0.5"/>
<text x="108.0" y="607.0" font-size="1.3" fill="#555" font-family="Liberation Sans, sans-serif" font-weight="bold" text-anchor="middle"  xml:space="preserve">50</text>
<line x1="132.0" y1="604.5" x2="132.0" y2="605.3" stroke="#c8c8c8" stroke-width="0.5"/>
<text x="132.0" y="607.0" font-size="1.3" fill="#555" font-family="Liberation Sans, sans-serif" font-weight="bold" text-anchor="middle"  xml:space="preserve">100</text>
<line x1="155.7" y1="604.5" x2="155.7" y2="605.3" stroke="#c8c8c8" stroke-width="0.5"/>
<text x="155.7" y="607.0" font-size="1.3" fill="#555" font-family="Liberation Sans, sans-serif" font-weight="bold" text-anchor="middle"  xml:space="preserve">150</text>
<line x1="179.4" y1="604.5" x2="179.4" y2="605.3" stroke="#c8c8c8" stroke-width="0.5"/>
<text x="179.4" y="607.0" font-size="1.3" fill="#555" font-family="Liberation Sans, sans-serif" font-weight="bold" text-anchor="middle"  xml:space="preserve">200</text>
<text x="132.0" y="609.9" font-size="1.8" fill="#333" font-family="Liberation Sans, sans-serif" font-weight="bold" text-anchor="middle"  xml:space="preserve">Time</text>
<text x="0" y="0" font-size="1.6" fill="#444" font-weight="bold" font-family="Liberation Sans, sans-serif" text-anchor="middle" transform="translate(75.0,547.5) rotate(-90)">Probability</text>
<path d="M84.9,494.4 H85.9 V502.1 H86.3 V510.6 H88.75 V518.5 H111.4 V538.9 H144.2" fill="none" stroke="#F8766D" stroke-width="0.7" stroke-opacity="0.65" stroke-linejoin="miter"/>
<path d="M84.1,494.6 V536 H84.4 V543.3 H93.6 V550.5 H113.4 V558.6 H142.8 V568.9 H152.1 V579.2 H181.7" fill="none" stroke="#00BFC4" stroke-width="0.75" stroke-opacity="0.7" stroke-linejoin="miter"/>
<rect x="202.3" y="500.0" width="44.3" height="45.0" fill="#fff" stroke="#666" stroke-width="0.7"/>
<text x="205.0" y="504.7" font-size="3.0" fill="#a86a2a" font-weight="bold" textLength="8.9" lengthAdjust="spacingAndGlyphs"  xml:space="preserve">p=0.12</text>
<text x="205.0" y="513.4" font-size="3.0" fill="#f02828" font-weight="bold" textLength="38.7" lengthAdjust="spacingAndGlyphs"  xml:space="preserve">CNS ppx NR (CI 95%, 17-NR)</text>
<text x="205.0" y="521.7" font-size="3.0" fill="#3a8fb5" font-weight="bold" textLength="29.1" lengthAdjust="spacingAndGlyphs"  xml:space="preserve">No CNS ppx 20 months</text>
<text x="205.0" y="525.9" font-size="3.0" fill="#3a8fb5" font-weight="bold" textLength="18.6" lengthAdjust="spacingAndGlyphs"  xml:space="preserve">(CI 95%, 5-NR)</text>
</svg>
</body></html>
